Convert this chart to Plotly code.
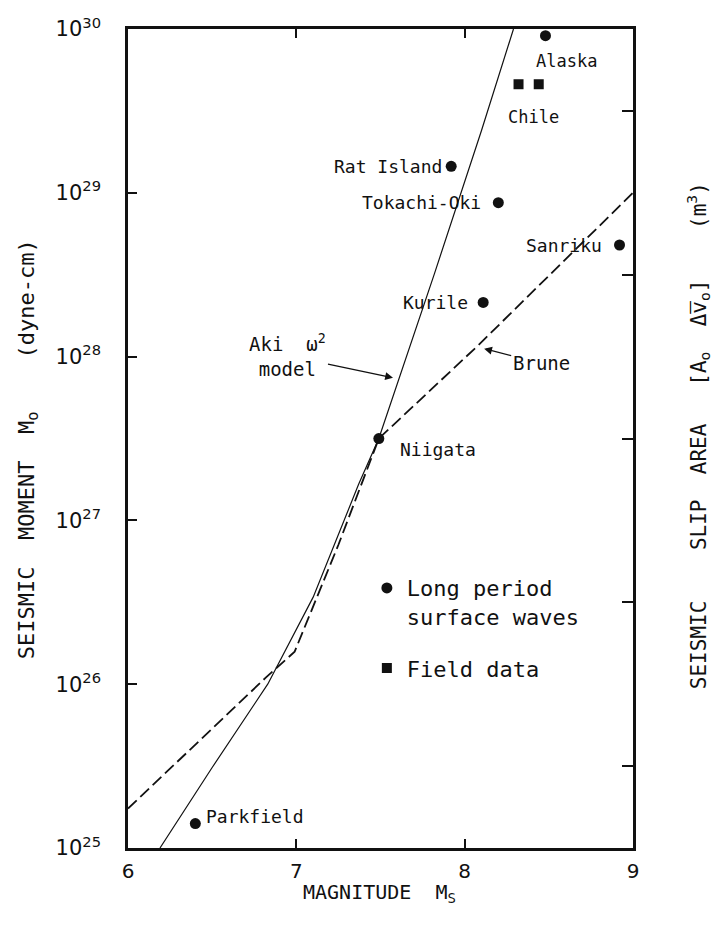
import math
import plotly.graph_objects as go

# ---------------- data ----------------
# Long period surface-wave events: surface-wave magnitude Ms and seismic moment M0 (dyne-cm)
event_names = ["Parkfield", "Niigata", "Kurile", "Tokachi-Oki", "Rat Island", "Sanriku", "Alaska"]
event_ms = [6.40, 7.49, 8.11, 8.20, 7.92, 8.92, 8.48]
event_m0 = [1.41e25, 3.16e27, 2.14e28, 8.7e28, 1.45e29, 4.8e28, 9.1e29]

# Field data (Chile)
field_ms = [8.32, 8.44]
field_m0 = [4.6e29, 4.6e29]

# Aki omega-squared model curve
aki_ms = [6.19, 6.50, 6.83, 7.10, 7.37, 7.49, 7.82, 8.10, 8.29]
aki_m0 = [1.0e25, 3.1e25, 1.0e26, 3.4e26, 1.66e27, 3.16e27, 3.2e28, 2.4e29, 1.0e30]

# Brune model curve
brune_ms = [6.00, 6.82, 6.99, 7.25, 7.49, 8.08, 9.00]
brune_m0 = [1.74e25, 1.10e26, 1.58e26, 7.1e26, 3.16e27, 1.17e28, 1.0e29]

x_tickvals = [6, 7, 8, 9]
x_ticktext = ["6", "7", "8", "9"]
y_tickvals = [1e25, 1e26, 1e27, 1e28, 1e29, 1e30]
y_ticktext = ["10<sup>25</sup>", "10<sup>26</sup>", "10<sup>27</sup>",
              "10<sup>28</sup>", "10<sup>29</sup>", "10<sup>30</sup>"]
slip_tickvals = [10 ** 25.5, 10 ** 26.5, 10 ** 27.5, 10 ** 28.5, 10 ** 29.5]

SANS = "DejaVu Sans"
LETTER = "DejaVu Sans Mono"
BLACK = "#111111"

fig = go.Figure()

fig.add_trace(go.Scatter(
    x=aki_ms, y=aki_m0, mode="lines", name="Aki ω² model",
    line=dict(color=BLACK, width=1.2), showlegend=False))

fig.add_trace(go.Scatter(
    x=brune_ms, y=brune_m0, mode="lines", name="Brune", yaxis="y2",
    line=dict(color=BLACK, width=1.8, dash="12px,5px"), showlegend=False))

fig.add_trace(go.Scatter(
    x=event_ms, y=event_m0, mode="markers", name="Long period<br>surface waves",
    legendgroup="lp",
    marker=dict(symbol="circle", size=11, color=BLACK), text=event_names,
    hoverinfo="text"))

fig.add_trace(go.Scatter(
    x=field_ms, y=field_m0, mode="markers", name="Field data", legendgroup="fd",
    marker=dict(symbol="square", size=10, color=BLACK)))

annotations = []

# event labels: (xanchor, xshift, yshift, size)
label_offsets = {
    "Parkfield": ("left", 9, 7, 18),
    "Niigata": ("left", 19, -11, 18),
    "Kurile": ("right", -13, 0, 18),
    "Tokachi-Oki": ("right", -15, 0, 18),
    "Rat Island": ("right", -7, 0, 18),
    "Sanriku": ("right", -16, 0, 18),
    "Alaska": ("left", -11, -25, 17),
}
for name, ms, m0 in zip(event_names, event_ms, event_m0):
    xa, xs, ys, sz = label_offsets[name]
    annotations.append(dict(
        x=ms, y=math.log10(m0), xref="x", yref="y", text=name, showarrow=False,
        xanchor=xa, yanchor="middle", xshift=xs, yshift=ys,
        font=dict(family=LETTER, size=sz, color=BLACK)))

annotations.append(dict(
    x=field_ms[0], y=math.log10(field_m0[0]), xref="x", yref="y", text="Chile",
    showarrow=False, xanchor="left", yanchor="middle", xshift=-13, yshift=-33,
    font=dict(family=LETTER, size=17, color=BLACK)))

# model labels with their arrows
annotations.append(dict(
    x=7.58, y=27.87, xref="x", yref="y", text="Aki  ω<sup>2</sup><br>model",
    showarrow=True, ax=-106, ay=-22, arrowhead=2, arrowsize=1.2, arrowwidth=1.3,
    arrowcolor=BLACK, standoff=1,
    font=dict(family=LETTER, size=19, color=BLACK)))
annotations.append(dict(
    x=8.11, y=28.05, xref="x", yref="y", text="Brune",
    showarrow=True, ax=58, ay=15, arrowhead=2, arrowsize=1.2, arrowwidth=1.3,
    arrowcolor=BLACK, standoff=1,
    font=dict(family=LETTER, size=19, color=BLACK)))

# axis titles
annotations.append(dict(
    x=-0.198, y=0.487, xref="paper", yref="paper", textangle=-90, showarrow=False,
    xanchor="center", yanchor="middle",
    text="SEISMIC\u00a0\u00a0MOMENT\u00a0\u00a0M<sub>o</sub>\u00a0\u00a0\u00a0\u00a0(dyne-cm)",
    font=dict(family=LETTER, size=22, color=BLACK)))
annotations.append(dict(
    x=1.129, y=0.503, xref="paper", yref="paper", textangle=-90, showarrow=False,
    xanchor="center", yanchor="middle",
    text="SEISMIC\u00a0\u00a0\u00a0\u00a0SLIP\u00a0\u00a0AREA\u00a0\u00a0\u00a0"
         "[A<sub>o</sub>\u00a0\u00a0Δ\u0305v\u0305<sub>o</sub>]\u00a0\u00a0\u00a0\u00a0(m<sup>3</sup>)",
    font=dict(family=LETTER, size=21, color=BLACK)))
annotations.append(dict(
    x=0.498, y=-0.0545, xref="paper", yref="paper", showarrow=False,
    xanchor="center", yanchor="middle",
    text="MAGNITUDE\u00a0\u00a0M<sub>S</sub>",
    font=dict(family=LETTER, size=20, color=BLACK)))

fig.update_layout(
    width=719, height=932,
    margin=dict(l=128, r=86, t=29, b=84),
    paper_bgcolor="white", plot_bgcolor="white",
    font=dict(family=SANS, color=BLACK),
    xaxis=dict(range=[6, 9], tickvals=x_tickvals, ticktext=x_ticktext,
               ticks="inside", ticklen=9, tickwidth=1.5, tickcolor=BLACK,
               showline=True, linewidth=2.5, linecolor=BLACK, mirror="ticks",
               showgrid=False, zeroline=False, ticklabelstandoff=3,
               tickfont=dict(family=SANS, size=20, color=BLACK)),
    yaxis=dict(type="log", range=[25, 30], tickvals=y_tickvals, ticktext=y_ticktext,
               ticks="inside", ticklen=9, tickwidth=1.5, tickcolor=BLACK,
               showline=True, linewidth=2.5, linecolor=BLACK, mirror=True,
               showgrid=False, zeroline=False, ticklabelstandoff=20,
               tickfont=dict(family=SANS, size=21, color=BLACK)),
    yaxis2=dict(type="log", range=[25, 30], overlaying="y", side="right",
                tickvals=slip_tickvals, showticklabels=False,
                ticks="inside", ticklen=11, tickwidth=1.5, tickcolor=BLACK,
                showline=True, linewidth=2.5, linecolor=BLACK,
                showgrid=False, zeroline=False),
    legend=dict(x=0.473, y=0.343, xanchor="left", yanchor="top",
                bgcolor="rgba(0,0,0,0)", valign="top", tracegroupgap=20,
                font=dict(family=LETTER, size=22, color=BLACK)),
    annotations=annotations,
)

fig.write_html(
    "out.html",
    config={"displayModeBar": False},
    post_script="document.body.style.margin='0';document.body.style.overflow='hidden';",
)
